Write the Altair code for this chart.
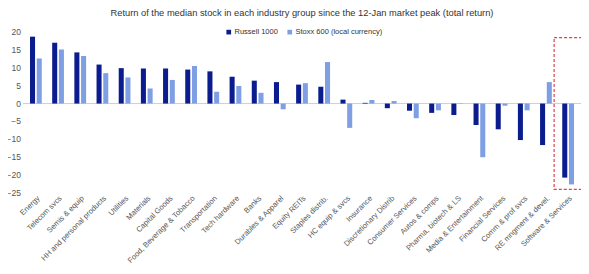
import altair as alt
import pandas as pd

categories = ["Energy", "Telecom svcs", "Semis & equip", "HH and personal products", "Utilities",
              "Materials", "Capital Goods", "Food, Beverage & Tobacco", "Transportation",
              "Tech hardware", "Banks", "Durables & Apparel", "Equity REITs", "Staples distrib.",
              "HC equip & svcs", "Insurance", "Discretionary Distrib", "Consumer Services",
              "Autos & comps", "Pharma, biotech & LS", "Media & Entertainment",
              "Financial Services", "Comm & prof svcs", "RE mngment & devel.", "Software & Services"]
russell = [18.7, 17.0, 14.3, 10.9, 9.9, 9.8, 9.8, 9.5, 9.0, 7.5, 6.4, 6.0, 5.3, 4.7,
           1.1, 0.2, -1.3, -2.0, -2.6, -3.2, -6.0, -7.2, -10.2, -11.6, -20.7]
stoxx = [12.6, 15.1, 13.3, 8.5, 7.3, 4.2, 6.6, 10.5, 3.3, 4.9, 3.0, -1.6, 5.7, 11.6,
         -6.8, 1.0, 0.7, -4.1, -1.9, -0.1, -15.0, -0.6, -1.9, 6.0, -22.6]
series = ["Russell 1000", "Stoxx 600 (local currency)"]
colors = ["#0B1D8E", "#7E9FE3"]
highlight = ["Software & Services"]
highlight_range = [18.4, -24.0]
y_ticks = [20, 15, 10, 5, 0, -5, -10, -15, -20, -25]

rows = []
for c, r, s in zip(categories, russell, stoxx):
    rows.append({"cat": c, "series": series[0], "value": r})
    rows.append({"cat": c, "series": series[1], "value": s})
df = pd.DataFrame(rows)

xscale = alt.Scale(domain=categories, paddingInner=0.47, paddingOuter=0.316)
yscale = alt.Scale(domain=[-25, 20], nice=False, zero=False)

bars = alt.Chart(df).mark_bar().encode(
    x=alt.X("cat:N", sort=categories, scale=xscale, title=None,
            axis=alt.Axis(labelAngle=-45, labelFontSize=7.6, labelColor="#555555",
                          labelFont="Liberation Sans", ticks=False, domain=False,
                          labelPadding=1, labelLimit=200, labelOverlap=False)),
    xOffset=alt.XOffset("series:N", sort=series, scale=alt.Scale(paddingInner=0.25)),
    y=alt.Y("value:Q", scale=yscale, title=None, axis=None),
    color=alt.Color("series:N", sort=series, scale=alt.Scale(domain=series, range=colors),
                    legend=alt.Legend(title=None, orient="none", direction="horizontal",
                                      legendX=202, legendY=-4, symbolType="square",
                                      symbolSize=22, labelFontSize=7.5, labelColor="#333333",
                                      labelFont="Liberation Sans", symbolOffset=0,
                                      columnPadding=8, labelOffset=2)),
)

ylabels = alt.Chart(pd.DataFrame({"t": y_ticks})).mark_text(
    align="right", baseline="middle", dx=-2, fontSize=8.5, font="Liberation Sans", color="#555555"
).encode(
    x=alt.value(0),
    y=alt.Y("t:Q", scale=yscale, axis=None),
    text=alt.Text("t:Q"),
)

zero = alt.Chart(pd.DataFrame({"y": [0]})).mark_rule(color="#C5D0E4", strokeWidth=1).encode(
    y=alt.Y("y:Q", scale=yscale, axis=None)
)

box_df = pd.DataFrame({"cat": highlight, "top": [highlight_range[0]], "bottom": [highlight_range[1]]})
box = alt.Chart(box_df).mark_bar(fillOpacity=0, stroke="#E0414B", strokeDash=[3, 2],
                                 strokeWidth=1.2, width=28).encode(
    x=alt.X("cat:N", sort=categories, scale=xscale),
    y=alt.Y("top:Q", scale=yscale, axis=None),
    y2="bottom:Q",
)

chart = alt.layer(zero, ylabels, bars, box).properties(
    width=558, height=161,
    title=alt.TitleParams("Return of the median stock in each industry group since the 12-Jan market peak (total return)",
                          fontSize=9.3, font="Liberation Sans", fontWeight="normal", color="#333333",
                          anchor="middle", offset=10),
    autosize=alt.AutoSizeParams(type="none"),
    padding={"left": 15, "top": 24, "right": 0, "bottom": 73},
).configure_view(stroke=None)

chart.save("out.html", embed_options={"renderer": "svg", "actions": False})
